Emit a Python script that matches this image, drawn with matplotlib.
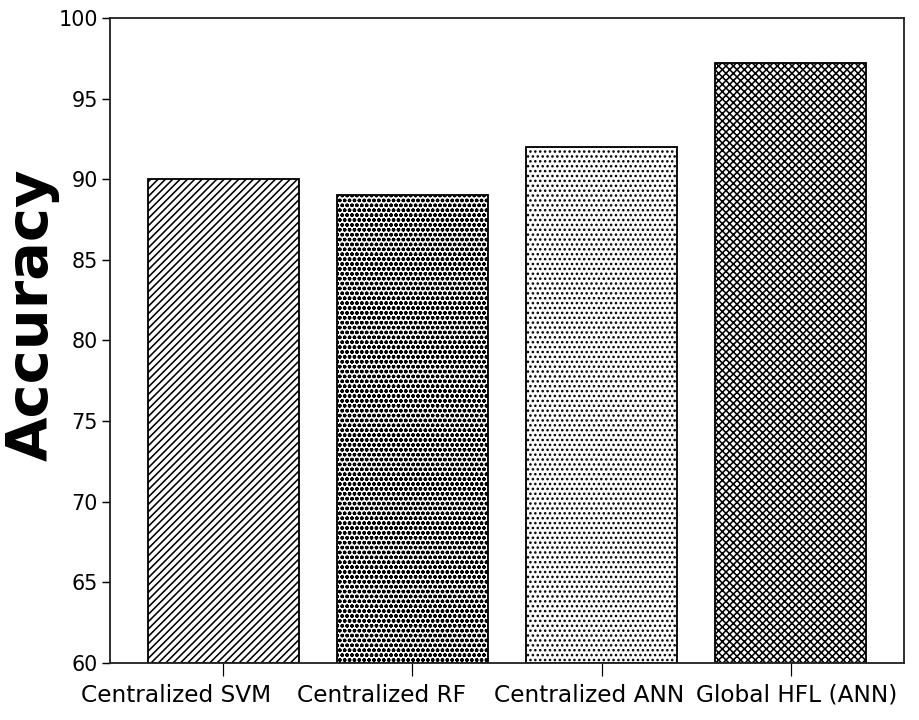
import numpy as np
import matplotlib
matplotlib.use('Agg')
import matplotlib.pyplot as plt
from matplotlib.transforms import ScaledTranslation

models = ['Centralized SVM', 'Centralized RF', 'Centralized ANN', 'Global HFL (ANN)']
accuracy = [90.0, 89.0, 92.0, 97.2]
hatches = ['////', 'ooo', '...', 'xxxx']
yticks = [60, 65, 70, 75, 80, 85, 90, 95, 100]
# the labels in the original sit a little off their ticks (pixels)
label_shift = [-47, -31, -12, 6]

dpi = 88
plt.rcParams['hatch.linewidth'] = 1.3
fig = plt.figure(figsize=(919 / dpi, 720 / dpi), dpi=dpi)
ax = fig.add_axes([0.1197, 0.0792, 0.8640, 0.8958])

x = np.arange(len(models))
for xi, val, h in zip(x, accuracy, hatches):
    ax.bar(xi, val - 60, bottom=60, width=0.8, color='white',
           edgecolor='black', linewidth=1.5, hatch=h)

ax.set_xlim(-0.6, 3.6)
ax.set_ylim(60, 100)
ax.set_yticks(yticks)
ax.set_xticks(x)
ax.set_xticklabels(models, fontsize=19)
ax.tick_params(axis='y', labelsize=17, length=6.5, width=1.2)
ax.tick_params(axis='x', length=11, width=1.0, pad=6)
for lab, dx in zip(ax.get_xticklabels(), label_shift):
    lab.set_transform(lab.get_transform() +
                      ScaledTranslation(dx / dpi, 0, fig.dpi_scale_trans))
for s in ax.spines.values():
    s.set_linewidth(1.5)
    s.set_color('#222222')

ax.set_ylabel('Accuracy', fontsize=47, fontweight='bold')
ax.yaxis.set_label_coords(-0.063, 0.54)

fig.savefig('out.png', dpi=dpi)
